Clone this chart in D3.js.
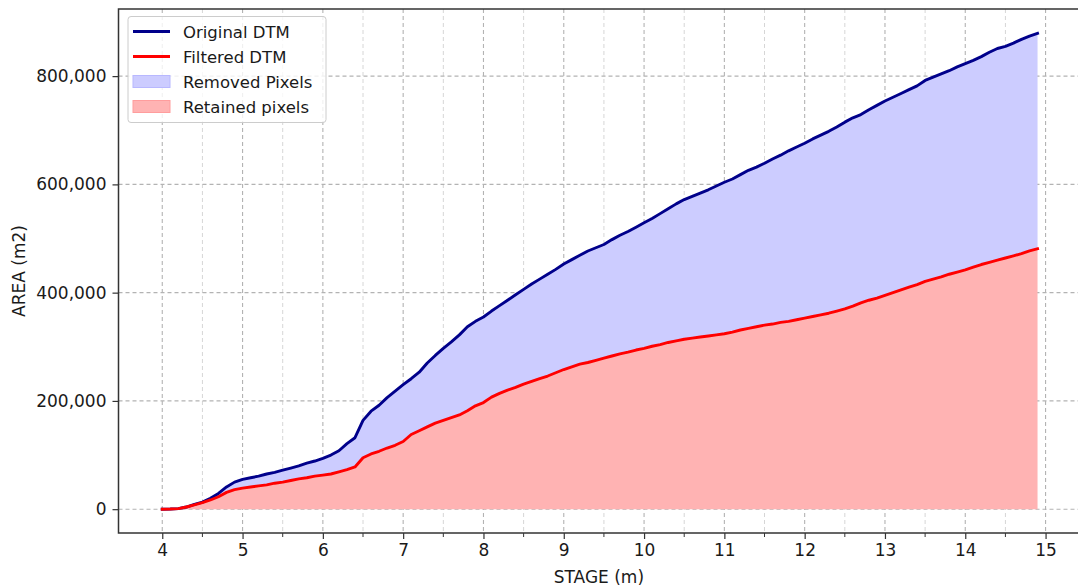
<!DOCTYPE html>
<html lang="en">
	<head>
		<meta charset="utf-8">
		<title>Stage - area</title>
		<script src="https://d3js.org/d3.v7.min.js"></script>
		<style>
			body { margin: 0; background: #fff; }
			text { font-family: "DejaVu Sans", sans-serif; fill: #1a1a1a; }
		</style>
	</head>
	<body>
		<div id="chart"></div>
		<script type="text/javascript">

			// stage values (m)
			var stage = [4.0, 4.1, 4.2, 4.3, 4.4, 4.5, 4.6, 4.7, 4.8, 4.9,
				5.0, 5.1, 5.2, 5.3, 5.4, 5.5, 5.6, 5.7, 5.8, 5.9,
				6.0, 6.1, 6.2, 6.3, 6.4, 6.5, 6.6, 6.7, 6.8, 6.9,
				7.0, 7.1, 7.2, 7.3, 7.4, 7.5, 7.6, 7.7, 7.8, 7.9,
				8.0, 8.1, 8.2, 8.3, 8.4, 8.5, 8.6, 8.7, 8.8, 8.9,
				9.0, 9.1, 9.2, 9.3, 9.4, 9.5, 9.6, 9.7, 9.8, 9.9,
				10.0, 10.1, 10.2, 10.3, 10.4, 10.5, 10.6, 10.7, 10.8, 10.9,
				11.0, 11.1, 11.2, 11.3, 11.4, 11.5, 11.6, 11.7, 11.8, 11.9,
				12.0, 12.1, 12.2, 12.3, 12.4, 12.5, 12.6, 12.7, 12.8, 12.9,
				13.0, 13.1, 13.2, 13.3, 13.4, 13.5, 13.6, 13.7, 13.8, 13.9,
				14.0, 14.1, 14.2, 14.3, 14.4, 14.5, 14.6, 14.7, 14.8, 14.9];

			// area of the original DTM (m2)
			var original = [0, 300, 1000, 4000, 9000, 13000, 20000, 29000, 41000, 50000,
				55000, 58000, 61000, 65000, 68000, 72000, 76000, 80000, 85000, 89000,
				94000, 100000, 108000, 121000, 132000, 164000, 181000, 192000, 206000, 218000,
				230000, 241000, 253000, 270000, 284000, 297000, 309000, 322000, 337000, 347000,
				355000, 366000, 376000, 386000, 396000, 406000, 416000, 425000, 434000, 443000,
				453000, 461000, 469000, 477000, 483000, 489000, 498000, 506000, 513000, 521000,
				529000, 537000, 546000, 555000, 564000, 572000, 578000, 584000, 590000, 597000,
				604000, 610000, 618000, 626000, 632000, 639000, 647000, 654000, 662000, 669000,
				676000, 684000, 691000, 698000, 706000, 715000, 723000, 729000, 738000, 746000,
				754000, 761000, 768000, 775000, 782000, 792000, 798000, 804000, 810000, 817000,
				823000, 829000, 836000, 844000, 851000, 855000, 861000, 868000, 874000, 879000];

			// area of the filtered DTM (m2)
			var filtered = [0, 300, 1000, 4000, 8000, 12000, 17000, 23000, 31000, 36000,
				39000, 41000, 43000, 45000, 48000, 50000, 53000, 56000, 58000, 61000,
				63000, 65000, 69000, 73000, 78000, 95000, 102000, 107000, 113000, 118000,
				125000, 138000, 145000, 152000, 159000, 164000, 169000, 174000, 182000, 191000,
				197000, 207000, 214000, 220000, 225000, 231000, 236000, 241000, 246000, 252000,
				258000, 263000, 268000, 271000, 275000, 279000, 283000, 287000, 290000, 294000,
				297000, 301000, 304000, 308000, 311000, 314000, 316000, 318000, 320000, 322000,
				324000, 327000, 331000, 334000, 337000, 340000, 342000, 345000, 347000, 350000,
				353000, 356000, 359000, 362000, 366000, 370000, 375000, 381000, 386000, 390000,
				395000, 400000, 405000, 410000, 415000, 421000, 425000, 429000, 434000, 438000,
				442000, 447000, 452000, 456000, 460000, 464000, 468000, 472000, 477000, 481000];

			var xTicks = [4, 5, 6, 7, 8, 9, 10, 11, 12, 13, 14, 15];
			var xMinor = [4.5, 5.5, 6.5, 7.5, 8.5, 9.5, 10.5, 11.5, 12.5, 13.5, 14.5];
			var yTicks = [0, 200000, 400000, 600000, 800000];

			var legendItems = [
				{label: 'Original DTM', type: 'line', color: '#00008b'},
				{label: 'Filtered DTM', type: 'line', color: '#ff0000'},
				{label: 'Removed Pixels', type: 'patch', color: '#ccccff', edge: '#b8b8ff'},
				{label: 'Retained pixels', type: 'patch', color: '#ffb3b3', edge: '#ff9d9d'}
			];

			var w = 1078, h = 587;
			// plot box (window.top is read-only, so no bare "top")
			var pLeft = 118.5, pTop = 9, pBottom = 533, pRight = 1081.3;

			var rows = stage.map(function (s, i) {
				return {s: s, o: original[i], f: filtered[i]};
			});

			var svg = d3.select('#chart')
				.append('svg')
				.attr('width', w)
				.attr('height', h);

			var x = d3.scaleLinear()
				.domain([3.455, 15.445])
				.range([pLeft, pRight]);
			var y = d3.scaleLinear()
				.domain([-44000, 924000])
				.range([pBottom, pTop]);

			// grid
			var grid = svg.append('g');
			grid.selectAll('line.minor')
				.data(xMinor)
				.enter()
				.append('line')
				.attr('x1', function (d) { return x(d); })
				.attr('x2', function (d) { return x(d); })
				.attr('y1', pTop).attr('y2', pBottom)
				.attr('stroke', '#d6d6d6')
				.attr('stroke-width', 1)
				.attr('stroke-dasharray', '4,3');
			grid.selectAll('line.majx')
				.data(xTicks)
				.enter()
				.append('line')
				.attr('x1', function (d) { return x(d); })
				.attr('x2', function (d) { return x(d); })
				.attr('y1', pTop).attr('y2', pBottom)
				.attr('stroke', '#b3b3b3')
				.attr('stroke-width', 1.1)
				.attr('stroke-dasharray', '4,3');
			grid.selectAll('line.majy')
				.data(yTicks)
				.enter()
				.append('line')
				.attr('x1', pLeft).attr('x2', pRight)
				.attr('y1', function (d) { return y(d); })
				.attr('y2', function (d) { return y(d); })
				.attr('stroke', '#b3b3b3')
				.attr('stroke-width', 1.1)
				.attr('stroke-dasharray', '4,3');

			// filled areas
			var removedArea = d3.area()
				.x(function (d) { return x(d.s); })
				.y0(function (d) { return y(d.f); })
				.y1(function (d) { return y(d.o); });
			var retainedArea = d3.area()
				.x(function (d) { return x(d.s); })
				.y0(y(0))
				.y1(function (d) { return y(d.f); });

			svg.append('path')
				.datum(rows)
				.attr('d', removedArea)
				.attr('fill', '#ccccff');
			svg.append('path')
				.datum(rows)
				.attr('d', retainedArea)
				.attr('fill', '#ffb3b3');

			// lines
			var lineO = d3.line()
				.x(function (d) { return x(d.s); })
				.y(function (d) { return y(d.o); });
			var lineF = d3.line()
				.x(function (d) { return x(d.s); })
				.y(function (d) { return y(d.f); });

			svg.append('path')
				.datum(rows)
				.attr('d', lineO)
				.attr('fill', 'none')
				.attr('stroke', '#00008b')
				.attr('stroke-width', 2.9)
				.attr('stroke-linejoin', 'round')
				.attr('stroke-linecap', 'square');
			svg.append('path')
				.datum(rows)
				.attr('d', lineF)
				.attr('fill', 'none')
				.attr('stroke', '#ff0000')
				.attr('stroke-width', 2.9)
				.attr('stroke-linejoin', 'round')
				.attr('stroke-linecap', 'square');

			// axes
			var xAxis = svg.append('g')
				.attr('transform', 'translate(0,' + pBottom + ')')
				.call(d3.axisBottom(x).tickValues(xTicks).tickSize(6).tickPadding(5).tickFormat(d3.format('d')));
			xAxis.append('g')
				.selectAll('line')
				.data(xMinor)
				.enter()
				.append('line')
				.attr('x1', function (d) { return x(d); })
				.attr('x2', function (d) { return x(d); })
				.attr('y1', 0).attr('y2', 4)
				.attr('stroke', '#333');

			var yAxis = svg.append('g')
				.attr('transform', 'translate(' + pLeft + ',0)')
				.call(d3.axisLeft(y).tickValues(yTicks).tickSize(6).tickPadding(6).tickFormat(d3.format(',')));

			[xAxis, yAxis].forEach(function (g) {
				g.select('.domain').remove();
				g.selectAll('.tick line').attr('stroke', '#333').attr('stroke-width', 1.2);
				g.selectAll('.tick text')
					.style('font-family', '"DejaVu Sans", sans-serif')
					.style('font-size', '17px')
					.attr('fill', '#1a1a1a');
			});

			// spines
			svg.append('rect')
				.attr('x', pLeft).attr('y', pTop)
				.attr('width', pRight - pLeft).attr('height', pBottom - pTop)
				.attr('fill', 'none')
				.attr('stroke', '#333')
				.attr('stroke-width', 1.5);

			// axis labels
			svg.append('text')
				.attr('x', (pLeft + pRight) / 2 - 1)
				.attr('y', 583)
				.attr('text-anchor', 'middle')
				.style('font-size', '17px')
				.text('STAGE (m)');
			svg.append('text')
				.attr('transform', 'translate(25,' + ((pTop + pBottom) / 2) + ') rotate(-90)')
				.attr('text-anchor', 'middle')
				.style('font-size', '17px')
				.text('AREA (m2)');

			// legend
			var lg = svg.append('g').attr('transform', 'translate(128,16.5)');
			lg.append('rect')
				.attr('width', 198).attr('height', 106)
				.attr('rx', 3)
				.attr('fill', 'rgba(255,255,255,0.8)')
				.attr('stroke', '#cccccc')
				.attr('stroke-width', 1);
			var items = lg.selectAll('g.item')
				.data(legendItems)
				.enter()
				.append('g')
				.attr('transform', function (d, i) { return 'translate(0,' + (15 + i * 25) + ')'; });
			items.filter(function (d) { return d.type === 'line'; })
				.append('line')
				.attr('x1', 5).attr('x2', 42)
				.attr('y1', 0).attr('y2', 0)
				.attr('stroke', function (d) { return d.color; })
				.attr('stroke-width', 2.9);
			items.filter(function (d) { return d.type === 'patch'; })
				.append('rect')
				.attr('x', 5).attr('y', -6)
				.attr('width', 37).attr('height', 12)
				.attr('fill', function (d) { return d.color; })
				.attr('stroke', function (d) { return d.edge; })
				.attr('stroke-width', 1);
			items.append('text')
				.attr('x', 55)
				.attr('y', 6)
				.style('font-size', '16.5px')
				.text(function (d) { return d.label; });

		</script>
	</body>
</html>
